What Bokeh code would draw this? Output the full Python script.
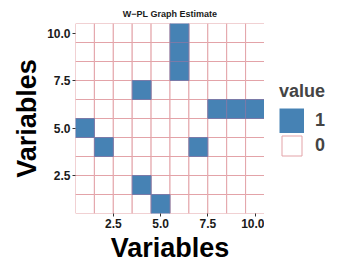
from bokeh.plotting import figure
from bokeh.layouts import row
from bokeh.models import ColumnDataSource, Legend, LegendItem, FixedTicker
from bokeh.embed import file_html
from bokeh.resources import INLINE

# Data: 10x10 binary matrix, cells with value 1
ones_x = [6, 6, 6, 4, 8, 9, 10, 1, 2, 7, 4, 5]
ones_y = [10, 9, 8, 7, 6, 6, 6, 5, 4, 4, 2, 1]
n = 10
ticks = [2.5, 5.0, 7.5, 10.0]
tick_labels = {2.5: "2.5", 5.0: "5.0", 7.5: "7.5", 10.0: "10.0"}
legend_labels = ["1", "0"]

ones = set(zip(ones_x, ones_y))
zx, zy = [], []
for i in range(1, n + 1):
    for j in range(1, n + 1):
        if (i, j) not in ones:
            zx.append(i)
            zy.append(j)

FONT = "Liberation Sans"
BLUE = "#4682B4"
LINE0 = "#e3a3a8"
LINE1 = "#7a7aa8"

p = figure(frame_width=189, frame_height=190, x_range=(0.5, 10.5), y_range=(0.5, 10.5),
           output_backend="svg", toolbar_location=None,
           min_border_left=75, min_border_right=0, min_border_top=23, min_border_bottom=40,
           title="W\u2212PL Graph Estimate")
p.title.text_font = FONT
p.title.text_font_size = "9px"
p.title.text_font_style = "bold"
p.title.align = "center"
p.title.text_color = "#1a1a1a"

src0 = ColumnDataSource(dict(x=zx, y=zy))
src1 = ColumnDataSource(dict(x=ones_x, y=ones_y))
p.rect("x", "y", width=1, height=1, source=src0, fill_color="white",
       line_color=LINE0, line_width=1)
p.rect("x", "y", width=1, height=1, source=src1, fill_color=BLUE,
       line_color=LINE1, line_width=1)

p.grid.visible = False
p.outline_line_color = None
p.background_fill_color = "white"

for ax in (p.xaxis[0], p.yaxis[0]):
    ax.ticker = FixedTicker(ticks=ticks)
    ax.major_label_overrides = tick_labels
    ax.axis_label = "Variables"
    ax.axis_label_text_font = FONT
    ax.axis_label_text_font_size = "27px"
    ax.axis_label_text_font_style = "bold"
    ax.axis_label_text_color = "black"
    ax.major_label_text_font = FONT
    ax.major_label_text_font_size = "12px"
    ax.major_label_text_font_style = "bold"
    ax.major_label_text_color = "#1a1a1a"
    ax.axis_line_color = None
    ax.major_tick_line_color = "#333333"
    ax.major_tick_in = 0
    ax.major_tick_out = 3
    ax.minor_tick_line_color = None
    ax.axis_label_standoff = 2
    ax.major_label_standoff = 2

# Separate legend panel to the right of the plot; its renderers reuse the
# real data sources but its ranges keep those cells out of view.
lf = figure(width=93, height=p.frame_height + 23 + 48, x_range=(-3, -2), y_range=(-3, -2),
            output_backend="svg", toolbar_location=None,
            min_border_left=0, min_border_right=0, min_border_top=0, min_border_bottom=0)
lf.axis.visible = False
lf.grid.visible = False
lf.outline_line_color = None
# thick line gives a solid, full-size key swatch
k1 = lf.line("x", "y", source=src1, line_color=BLUE, line_width=25, line_cap="butt")
k0 = lf.rect("x", "y", width=1, height=1, source=src0,
             fill_color="white", line_color=LINE0, line_width=1)

legend = Legend(items=[LegendItem(label=legend_labels[0], renderers=[k1]),
                       LegendItem(label=legend_labels[1], renderers=[k0])],
                title="value")
legend.title_text_font = FONT
legend.title_text_font_size = "18px"
legend.title_text_font_style = "bold"
legend.label_text_font = FONT
legend.label_text_font_size = "18px"
legend.label_text_font_style = "bold"
legend.glyph_width = 25
legend.glyph_height = 25
legend.label_height = 25
legend.label_width = 12
legend.spacing = 0
legend.padding = 0
legend.margin = 0
legend.border_line_color = None
legend.background_fill_alpha = 0
legend.label_standoff = 11
legend.title_standoff = 6
legend.location = (15, 51)
lf.add_layout(legend, "center")

layout = row(p, lf, spacing=0)
open("out.html", "w").write(file_html(layout, INLINE))
